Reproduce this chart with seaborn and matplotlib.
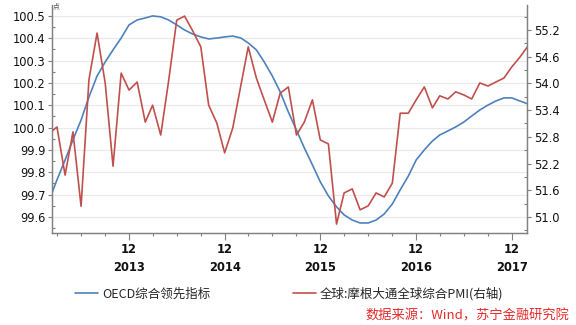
import numpy as np
import pandas as pd
import matplotlib
matplotlib.use("Agg")
import matplotlib.pyplot as plt
import matplotlib.dates as mdates
from matplotlib.ticker import MultipleLocator, FormatStrFormatter, FuncFormatter
from matplotlib.font_manager import FontProperties
import seaborn as sns

# ---------------- data (monthly, Feb 2013 - Feb 2018) ----------------
months = pd.date_range("2013-02-01", periods=61, freq="MS")

oecd_cli = [
    99.68, 99.766, 99.855, 99.945, 100.034, 100.137, 100.231, 100.294, 100.348, 100.401, 100.46,   # 2013
    100.482, 100.491, 100.50, 100.496, 100.482, 100.46, 100.437, 100.419, 100.406, 100.397, 100.401, 100.406,  # 2014
    100.41, 100.401, 100.379, 100.348, 100.294, 100.231, 100.16, 100.07, 99.989, 99.909, 99.833, 99.757,  # 2015
    99.694, 99.645, 99.609, 99.586, 99.573, 99.573, 99.586, 99.613, 99.658, 99.721, 99.783, 99.855,  # 2016
    99.90, 99.94, 99.967, 99.985, 100.003, 100.025, 100.052, 100.079, 100.101, 100.119, 100.133, 100.133,  # 2017
    100.119, 100.106,  # 2018
]

jpm_pmi = [
    52.89, 53.02, 51.94, 52.91, 51.24, 54.08, 55.13, 54.01, 52.14, 54.23, 53.85,   # 2013
    54.03, 53.13, 53.51, 52.84, 54.05, 55.42, 55.51, 55.18, 54.82, 53.51, 53.11, 52.44,  # 2014
    53.00, 53.96, 54.82, 54.12, 53.63, 53.13, 53.78, 53.92, 52.84, 53.13, 53.63, 52.73,  # 2015
    52.64, 50.84, 51.54, 51.63, 51.16, 51.25, 51.54, 51.45, 51.76, 53.33, 53.33, 53.63,  # 2016
    53.92, 53.45, 53.72, 53.65, 53.81, 53.74, 53.65, 54.01, 53.94, 54.03, 54.12, 54.37,  # 2017
    54.59, 54.84,  # 2018
]

label_oecd = "OECD综合领先指标"
label_pmi = "全球:摩根大通全球综合PMI(右轴)"
source_text = "数据来源：Wind，苏宁金融研究院"
unit_text = "点"

BLUE = "#4f81bd"
RED = "#c0504d"
SPINE = "#808080"

# ---------------- style ----------------
sns.set_style("white")
plt.rcParams['font.family'] = ['DejaVu Sans', 'Noto Sans CJK SC']
plt.rcParams['axes.unicode_minus'] = False

fig = plt.figure(figsize=(5.76, 3.25), dpi=100)
L, R, T, B = 52, 527, 5, 233
ax = fig.add_axes([L / 576, 1 - B / 325, (R - L) / 576, (B - T) / 325])
ax2 = ax.twinx()

df = pd.DataFrame({"date": months, "oecd": oecd_cli, "pmi": jpm_pmi})
sns.lineplot(data=df, x="date", y="oecd", ax=ax, color=BLUE, linewidth=1.2, label=label_oecd)
sns.lineplot(data=df, x="date", y="pmi", ax=ax2, color=RED, linewidth=1.2, label=label_pmi)

h1, l1 = ax.get_legend_handles_labels()
h2, l2 = ax2.get_legend_handles_labels()
for a in (ax, ax2):
    if a.get_legend() is not None:
        a.get_legend().remove()
    a.set_xlabel("")
    a.set_ylabel("")

# ---------------- axes limits / ticks ----------------
ax.set_xlim(pd.Timestamp("2013-02-10"), pd.Timestamp("2018-01-28"))
ax.set_ylim(99.528, 100.549)
ax2.set_ylim(50.64, 55.76)

ax.yaxis.set_major_locator(MultipleLocator(0.1))
ax.yaxis.set_minor_locator(MultipleLocator(0.05))
ax.yaxis.set_major_formatter(FormatStrFormatter("%.1f"))
ax2.yaxis.set_major_locator(MultipleLocator(0.6))
ax2.yaxis.set_minor_locator(MultipleLocator(0.3))
ax2.yaxis.set_major_formatter(FormatStrFormatter("%.1f"))

ax.xaxis.set_major_locator(mdates.MonthLocator(bymonth=[12]))
ax.xaxis.set_minor_locator(mdates.MonthLocator(bymonth=[3, 6, 9]))
ax.xaxis.set_major_formatter(FuncFormatter(lambda v, p: "12\n" + mdates.num2date(v).strftime("%Y")))

ax.grid(False)
ax2.grid(False)
ax.yaxis.grid(True, which="major", color="#e9e9e9", linewidth=0.8)
ax.set_axisbelow(True)

for a in (ax, ax2):
    a.spines["top"].set_visible(False)
    for s in ("left", "right", "bottom"):
        a.spines[s].set_color(SPINE)
        a.spines[s].set_linewidth(0.9)

ax.tick_params(axis="y", which="major", direction="out", length=3, width=0.8,
               color=SPINE, labelsize=8.3, pad=1.5, labelcolor="#111111")
ax.tick_params(axis="y", which="minor", direction="in", length=2.2, width=0.8, color=SPINE)
ax.tick_params(axis="y", which="both", left=True, right=False)
ax2.tick_params(axis="y", which="major", direction="out", length=3, width=0.8,
                color=SPINE, labelsize=8.3, pad=2, labelcolor="#111111")
ax2.tick_params(axis="y", which="minor", direction="in", length=2.2, width=0.8, color=SPINE)
ax2.tick_params(axis="y", which="both", left=False, right=True)
ax.tick_params(axis="x", which="major", direction="out", length=5, width=0.8,
               color=SPINE, labelsize=8.3, pad=2, labelcolor="#111111")
ax.tick_params(axis="x", which="minor", direction="out", length=2.5, width=0.8, color=SPINE)
ax.tick_params(axis="x", which="both", bottom=True, top=False)
for t in ax.get_xticklabels():
    t.set_fontweight("bold")
    t.set_linespacing(1.5)

# unit label
fig.text(53 / 576, 1 - 6 / 325, unit_text, fontsize=5, color="#555555",
         ha="left", va="center", family=["Noto Sans CJK SC", "DejaVu Sans"])

# legend
fig.legend(h1 + h2, l1 + l2, loc="center left", bbox_to_anchor=(75 / 576, 1 - 294 / 325),
           ncol=2, frameon=False, borderpad=0, borderaxespad=0, handlelength=1.85,
           handletextpad=0.3, columnspacing=6.6,
           prop=FontProperties(family=["Noto Sans CJK SC", "DejaVu Sans"], size=9))

# source
fig.text(569 / 576, 1 - 316 / 325, source_text, ha="right", va="center",
         color="#e52b2b", fontsize=9.5, style="italic",
         family=["Noto Sans CJK SC", "DejaVu Sans"])

fig.savefig("out.png", dpi=100)
